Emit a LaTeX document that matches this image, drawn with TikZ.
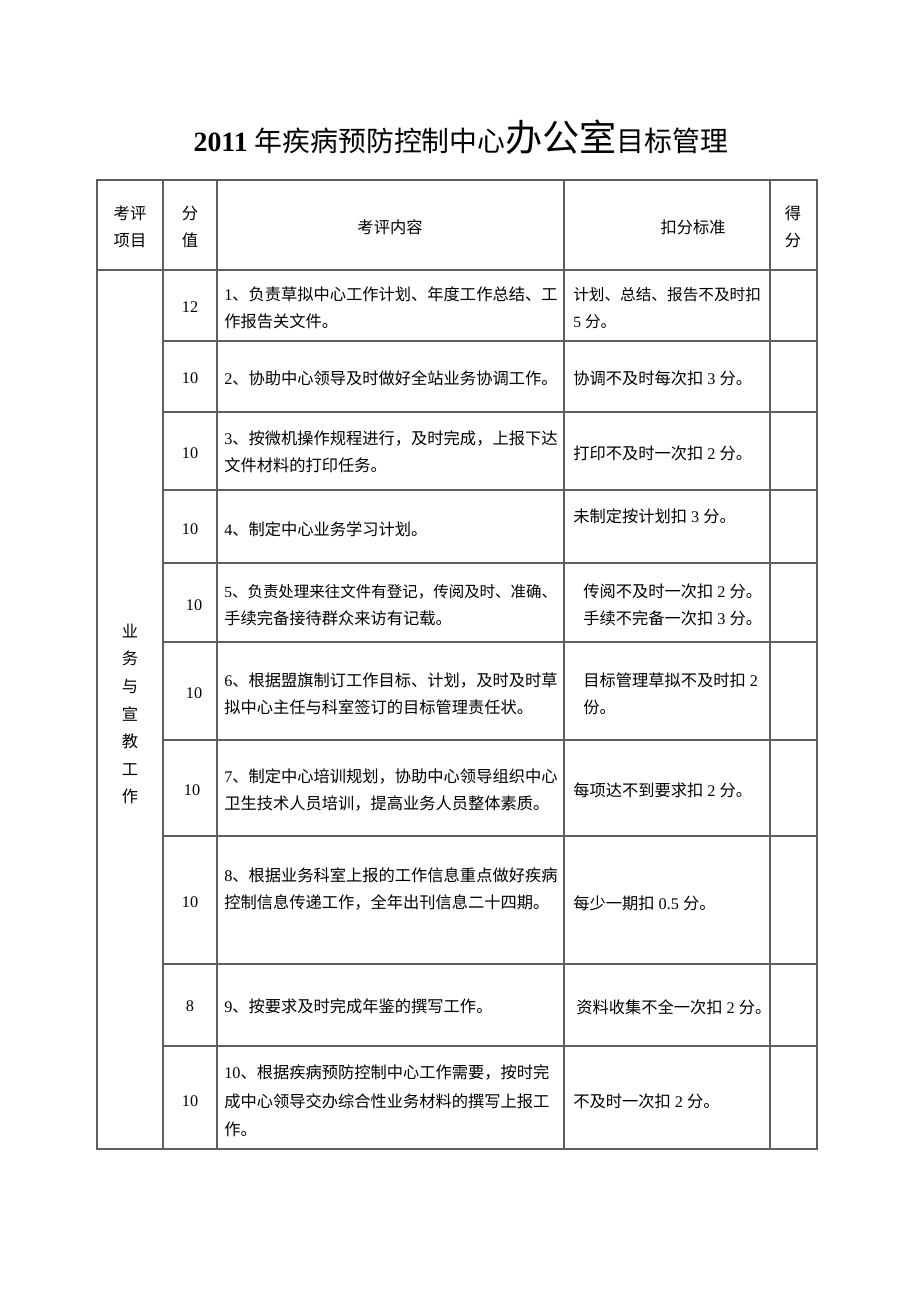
\documentclass[tikz,border=0pt]{standalone}
\usepackage{fontspec}
\setmainfont{Liberation Serif}
\newfontfamily\hanzi{Noto Sans CJK SC}
\usepackage{tikz}
\usetikzlibrary{positioning}
\newcommand\shu[1]{{\rmfamily #1}}
\definecolor{RuleGray}{RGB}{95,95,95}

\begin{document}
\begin{tikzpicture}[x=0.646pt, y=-0.646pt,
                % Style duong ke bang
                rule/.style={draw=RuleGray, line width=0.9pt},
                % Style chu trong o
                cell/.style={font=\hanzi\fontsize{10.5}{17.4}\selectfont, inner sep=0pt},
                % Style o canh trai
                leftcell/.style={cell, anchor=west, align=left},
                % Style o canh giua
                midcell/.style={cell, align=center},
                % Style diem so
                score/.style={font=\rmfamily\fontsize{10.5}{12}\selectfont, inner sep=0pt}
            ]
                \useasboundingbox (0,0) rectangle (920,1302);

                % --- TIEU DE ---
                \node[inner sep=0pt] (title) at (461,137)
                    {\fontsize{18}{20}\selectfont\textbf{2011} \hanzi 年疾病预防控制中心{\fontsize{24}{26}\selectfont 办公室}目标管理};

                % --- KHUNG BANG ---
                \draw[rule] (97,180) rectangle (817,1149);
                \draw[rule] (163,180) -- (163,1149);
                \draw[rule] (217,180) -- (217,1149);
                \draw[rule] (564,180) -- (564,1149);
                \draw[rule] (770,180) -- (770,1149);
                \draw[rule] (97,270) -- (817,270);
                \draw[rule] (163,341) -- (817,341);
                \draw[rule] (163,412) -- (817,412);
                \draw[rule] (163,490) -- (817,490);
                \draw[rule] (163,563) -- (817,563);
                \draw[rule] (163,642) -- (817,642);
                \draw[rule] (163,740) -- (817,740);
                \draw[rule] (163,836) -- (817,836);
                \draw[rule] (163,964) -- (817,964);
                \draw[rule] (163,1046) -- (817,1046);

                % --- HANG TIEU DE ---
                \node[midcell] (hxm) at (130,227) {考评\\项目};
                \node[midcell] (hfz) at (190,227) {分\\值};
                \node[midcell] (hnr) at (390,227) {考评内容};
                \node[midcell] (hbz) at (693,227) {扣分标准};
                \node[midcell] (hdf) at (793,227) {得\\分};

                % Cot ben trai
                \node[cell, align=center, font=\hanzi\fontsize{10.5}{17.8}\selectfont] (xm) at (130,714)
                    {业\\务\\与\\宣\\教\\工\\作};

                % --- DIEM SO ---
                \node[score] (s1) at (190,307) {12};
                \node[score] (s2) at (190,378) {10};
                \node[score] (s3) at (190,453) {10};
                \node[score] (s4) at (190,529) {10};
                \node[score] (s5) at (194,605) {10};
                \node[score] (s6) at (194,693) {10};
                \node[score] (s7) at (192,790) {10};
                \node[score] (s8) at (190,902) {10};
                \node[score] (s9) at (190,1006) {8};
                \node[score] (s10) at (190,1101) {10};

                % --- NOI DUNG ---
                \node[leftcell] (c1) at (224,308) {\shu{1}、负责草拟中心工作计划、年度工作总结、工\\作报告关文件。};
                \node[leftcell] (c2) at (224,378) {\shu{2}、协助中心领导及时做好全站业务协调工作。};
                \node[leftcell] (c3) at (224,452) {\shu{3}、按微机操作规程进行，及时完成，上报下达\\文件材料的打印任务。};
                \node[leftcell] (c4) at (224,529) {\shu{4}、制定中心业务学习计划。};
                \node[leftcell, font=\hanzi\fontsize{10}{17.4}\selectfont] (c5) at (224,605)
                    {\shu{5}、负责处理来往文件有登记，传阅及时、准确、\\{\fontsize{10.5}{17.4}\selectfont 手续完备接待群众来访有记载。}};
                \node[leftcell] (c6) at (224,694) {\shu{6}、根据盟旗制订工作目标、计划，及时及时草\\拟中心主任与科室签订的目标管理责任状。};
                \node[leftcell] (c7) at (224,790) {\shu{7}、制定中心培训规划，协助中心领导组织中心\\卫生技术人员培训，提高业务人员整体素质。};
                \node[leftcell] (c8) at (224,889) {\shu{8}、根据业务科室上报的工作信息重点做好疾病\\控制信息传递工作，全年出刊信息二十四期。};
                \node[leftcell] (c9) at (224,1006) {\shu{9}、按要求及时完成年鉴的撰写工作。};
                \node[leftcell, font=\hanzi\fontsize{10.5}{18.4}\selectfont] (c10) at (224,1101)
                    {\shu{10}、根据疾病预防控制中心工作需要，按时完\\成中心领导交办综合性业务材料的撰写上报工\\作。};

                % --- TIEU CHUAN TRU DIEM ---
                \node[leftcell, font=\hanzi\fontsize{10.1}{17.4}\selectfont] (b1) at (573,308) {计划、总结、报告不及时扣\\\shu{5 }分。};
                \node[leftcell] (b2) at (573,378) {协调不及时每次扣\shu{ 3 }分。};
                \node[leftcell] (b3) at (573,453) {打印不及时一次扣\shu{ 2 }分。};
                \node[leftcell] (b4) at (573,516) {未制定按计划扣\shu{ 3 }分。};
                \node[leftcell] (b5) at (583,605) {传阅不及时一次扣\shu{ 2 }分。\\手续不完备一次扣\shu{ 3 }分。};
                \node[leftcell] (b6) at (583,694) {目标管理草拟不及时扣\shu{ 2}\\份。};
                \node[leftcell] (b7) at (573,790) {每项达不到要求扣\shu{ 2 }分。};
                \node[leftcell] (b8) at (573,903) {每少一期扣\shu{ 0.5 }分。};
                \node[leftcell] (b9) at (576,1007) {资料收集不全一次扣\shu{ 2 }分。};
                \node[leftcell] (b10) at (573,1101) {不及时一次扣\shu{ 2 }分。};

            \end{tikzpicture}
\end{document}
